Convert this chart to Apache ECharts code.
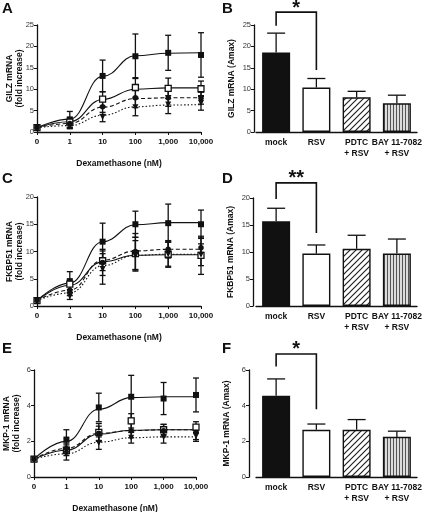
<!DOCTYPE html>
<html><head><meta charset="utf-8">
<script src="https://cdn.jsdelivr.net/npm/echarts@6/dist/echarts.min.js"></script>
<style>html,body{margin:0;padding:0;background:#fff}#c{width:427px;height:512px}</style>
</head><body><div id="c"></div>
<script>
// ---------- DATA ----------
var doseLabels = ['0', '1', '10', '100', '1,000', '10,000'];
var groups = ['mock', 'RSV', 'PDTC\n+ RSV', 'BAY 11-7082\n+ RSV'];

// Panel A: GILZ mRNA (fold increase) - points, SEM, fitted curve read at each dose
var A_mock = [1.0, 2.8, 13.1, 17.7, 18.5, 18.0];
var A_mock_err = [0.3, 2.0, 3.7, 5.2, 4.1, 5.2];
var A_mock_fit = [1.0, 3.0, 13.0, 17.8, 18.4, 18.5];
var A_rsv = [1.0, 2.3, 7.7, 10.4, 10.2, 10.1];
var A_rsv_err = [0.2, 1.2, 1.7, 2.3, 2.4, 1.8];
var A_rsv_fit = [1.0, 2.4, 7.6, 10.0, 10.3, 10.3];
var A_pdtc = [1.0, 2.0, 5.9, 8.0, 8.0, 7.9];
var A_pdtc_err = [0.2, 0.9, 1.8, 2.3, 2.0, 1.4];
var A_pdtc_fit = [1.0, 2.0, 5.8, 7.8, 8.0, 8.0];
var A_bay = [1.0, 1.3, 3.5, 5.8, 6.4, 6.8];
var A_bay_err = [0.2, 0.5, 1.1, 2.0, 2.1, 1.7];
var A_bay_fit = [1.0, 1.5, 3.9, 5.9, 6.3, 6.4];

// Panel C: FKBP51 mRNA (fold increase)
var C_mock = [1.0, 4.4, 11.8, 15.0, 15.2, 15.0];
var C_mock_err = [0.2, 1.9, 3.4, 2.4, 3.5, 2.6];
var C_mock_fit = [1.0, 4.2, 11.8, 14.9, 15.3, 15.3];
var C_rsv = [1.0, 4.0, 8.3, 9.6, 9.5, 9.3];
var C_rsv_err = [0.2, 1.0, 1.8, 3.0, 2.4, 3.5];
var C_rsv_fit = [1.0, 3.8, 8.1, 9.3, 9.4, 9.4];
var C_pdtc = [1.0, 2.9, 8.0, 10.0, 10.4, 10.7];
var C_pdtc_err = [0.2, 1.0, 2.4, 3.3, 1.6, 1.8];
var C_pdtc_fit = [1.0, 2.9, 8.4, 10.1, 10.4, 10.4];
var C_bay = [1.0, 1.8, 6.8, 9.2, 9.5, 9.4];
var C_bay_err = [0.2, 0.6, 2.8, 2.8, 2.2, 2.0];
var C_bay_fit = [1.0, 2.4, 7.4, 9.3, 9.5, 9.5];

// Panel E: MKP-1 mRNA (fold increase)
var E_mock = [1.0, 2.1, 3.9, 4.5, 4.4, 4.6];
var E_mock_err = [0.05, 0.55, 0.8, 1.2, 0.9, 0.95];
var E_mock_fit = [1.0, 2.0, 3.8, 4.45, 4.5, 4.5];
var E_rsv = [1.0, 1.5, 2.5, 3.15, 2.65, 2.8];
var E_rsv_err = [0.05, 0.3, 0.5, 0.4, 0.3, 0.3];
var E_rsv_fit = [1.0, 1.5, 2.4, 2.62, 2.65, 2.65];
var E_pdtc = [1.0, 1.6, 2.45, 2.6, 2.6, 2.5];
var E_pdtc_err = [0.05, 0.3, 0.4, 0.4, 0.35, 0.4];
var E_pdtc_fit = [1.0, 1.6, 2.45, 2.6, 2.65, 2.65];
var E_bay = [1.0, 1.3, 1.9, 2.2, 2.25, 2.3];
var E_bay_err = [0.05, 0.35, 0.35, 0.3, 0.35, 0.3];
var E_bay_fit = [1.0, 1.3, 1.95, 2.2, 2.25, 2.25];

// Bar panels: Amax (mean, SEM)
var B_vals = [18.6, 10.4, 8.1, 6.7];
var B_err = [4.5, 2.1, 1.4, 1.9];
var D_vals = [15.7, 9.7, 10.6, 9.7];
var D_err = [2.4, 1.6, 2.5, 2.7];
var F_vals = [4.55, 2.65, 2.65, 2.25];
var F_err = [0.95, 0.32, 0.57, 0.32];

// Significance brackets: [label, top, left end, right end]
var B_sig = ['*', 28.0, 24.8, 14.5];
var D_sig = ['**', 22.8, 19.8, 13.5];
var F_sig = ['*', 6.9, 6.2, 3.8];

// ---------- CHART ----------
var FONT = '"Liberation Sans", Arial, sans-serif';
var INK = '#111';
var chart = echarts.init(document.getElementById('c'), null, {renderer: 'canvas'});

function mkPattern(type) {
  var c = document.createElement('canvas'), g;
  if (type === 'diag') {
    c.width = 6; c.height = 6; g = c.getContext('2d');
    g.fillStyle = '#fff'; g.fillRect(0, 0, 6, 6);
    g.strokeStyle = '#222'; g.lineWidth = 1.2; g.beginPath();
    g.moveTo(-1, 7); g.lineTo(7, -1);
    g.moveTo(-1, 1); g.lineTo(1, -1);
    g.moveTo(5, 7); g.lineTo(7, 5);
    g.stroke();
  } else {
    c.width = 3; c.height = 4; g = c.getContext('2d');
    g.fillStyle = '#dcdcdc'; g.fillRect(0, 0, 3, 4);
    g.fillStyle = '#555'; g.fillRect(0, 0, 1, 4);
  }
  return c;
}
var barFills = ['#111', '#fff', {image: mkPattern('diag'), repeat: 'repeat'}, {image: mkPattern('vert'), repeat: 'repeat'}];

var styles = [
  {sym: 'rect', fill: INK, dash: 'solid', size: 6, rot: 0},
  {sym: 'rect', fill: '#fff', dash: 'solid', size: 6, rot: 0},
  {sym: 'circle', fill: INK, dash: [4, 2.5], size: 5.5, rot: 0},
  {sym: 'triangle', fill: INK, dash: [1.5, 2], size: 6, rot: 180}
];

var grids = [], xAxes = [], yAxes = [], series = [], graphics = [];

function yAxisCfg(gi, max, interval, name, gap, offset) {
  return {
    gridIndex: gi, type: 'value', min: 0, max: max, interval: interval, offset: offset || 0,
    axisLine: {show: true, lineStyle: {color: INK, width: 1.3}},
    axisTick: {show: true, length: 3, lineStyle: {color: INK, width: 1}},
    axisLabel: {fontSize: 7.5, color: '#333', margin: 3, fontFamily: FONT},
    splitLine: {show: false},
    name: name, nameLocation: 'middle', nameGap: gap, nameRotate: 90, nameMoveOverlap: false,
    nameTextStyle: {fontSize: 8.5, fontWeight: 'bold', color: INK, fontFamily: FONT, lineHeight: 10}
  };
}

function errRender(cap, oneSided) {
  return function (params, api) {
    var x = api.value(0), lo = api.value(1), hi = api.value(2);
    var p1 = api.coord([x, lo]), p2 = api.coord([x, hi]), h = cap / 2;
    var st = {stroke: INK, lineWidth: 1.3};
    var ch = [
      {type: 'line', shape: {x1: p1[0], y1: p1[1], x2: p2[0], y2: p2[1]}, style: st},
      {type: 'line', shape: {x1: p2[0] - h, y1: p2[1], x2: p2[0] + h, y2: p2[1]}, style: st}
    ];
    if (!oneSided) ch.push({type: 'line', shape: {x1: p1[0] - h, y1: p1[1], x2: p1[0] + h, y2: p1[1]}, style: st});
    return {type: 'group', children: ch};
  };
}

function linePanel(gi, box, pts, errs, fits, yMax, yInt, yName) {
  grids.push({left: box[0], top: box[1], width: box[2], height: box[3], outerBoundsMode: 'none', containLabel: false});
  xAxes.push({
    gridIndex: gi, type: 'value', min: 0, max: 5, interval: 1,
    axisLine: {show: true, lineStyle: {color: INK, width: 1.3}},
    axisTick: {show: true, length: 3, lineStyle: {color: INK, width: 1}},
    axisLabel: {fontSize: 8, fontWeight: 'bold', color: INK, margin: 6, fontFamily: FONT,
      formatter: function (v) { return doseLabels[Math.round(v)]; }},
    splitLine: {show: false},
    name: 'Dexamethasone (nM)', nameLocation: 'middle', nameGap: 27, nameMoveOverlap: false,
    nameTextStyle: {fontSize: 8.5, fontWeight: 'bold', color: INK, fontFamily: FONT}
  });
  yAxes.push(yAxisCfg(gi, yMax, yInt, yName, 12));
  var errData = [];
  for (var s = 0; s < 4; s++) {
    var st = styles[s];
    series.push({
      type: 'line', xAxisIndex: gi, yAxisIndex: gi, z: 2, silent: true,
      data: fits[s].map(function (v, i) { return [i, v]; }),
      smooth: 0.45, smoothMonotone: 'x', showSymbol: false, symbol: 'none',
      lineStyle: {color: INK, width: 1.1, type: st.dash}
    });
    series.push({
      type: 'scatter', xAxisIndex: gi, yAxisIndex: gi, z: 5, silent: true,
      data: pts[s].map(function (v, i) { return [i, v]; }),
      symbol: st.sym, symbolSize: st.size, symbolRotate: st.rot,
      itemStyle: {color: st.fill, borderColor: INK, borderWidth: s === 1 ? 1.3 : 0, opacity: 1}
    });
    pts[s].forEach(function (v, i) { errData.push([i, v - errs[s][i], v + errs[s][i]]); });
  }
  series.push({
    type: 'custom', xAxisIndex: gi, yAxisIndex: gi, z: 3, silent: true,
    renderItem: errRender(6, false), data: errData, encode: {x: 0, y: [1, 2]}
  });
}

function barPanel(gi, box, vals, errs, yMax, yInt, yName, yOff, sig) {
  grids.push({left: box[0], top: box[1], width: box[2], height: box[3], outerBoundsMode: 'none', containLabel: false});
  xAxes.push({
    gridIndex: gi, type: 'category', data: groups,
    axisLine: {show: true, lineStyle: {color: INK, width: 1.3}},
    axisTick: {show: false},
    axisLabel: {fontSize: 8.5, fontWeight: 'bold', color: INK, margin: 5, lineHeight: 11, fontFamily: FONT, interval: 0},
    splitLine: {show: false}
  });
  yAxes.push(yAxisCfg(gi, yMax, yInt, yName, 17, yOff));
  series.push({
    type: 'bar', xAxisIndex: gi, yAxisIndex: gi, z: 2, silent: true, barWidth: 28,
    data: vals.map(function (v, i) {
      return {value: v, itemStyle: {color: barFills[i], borderColor: INK, borderWidth: 1.4}};
    })
  });
  series.push({
    type: 'custom', xAxisIndex: gi, yAxisIndex: gi, z: 1, silent: true,
    renderItem: errRender(18, true),
    data: vals.map(function (v, i) { return [i, v, v + errs[i]]; }), encode: {x: 0, y: [1, 2]}
  });
  series.push({
    type: 'custom', xAxisIndex: gi, yAxisIndex: gi, z: 4, silent: true, clip: false,
    renderItem: function (params, api) {
      var pT0 = api.coord([0, sig[1]]), pT1 = api.coord([1, sig[1]]);
      var pL = api.coord([0, sig[2]]), pR = api.coord([1, sig[3]]);
      var st = {stroke: INK, lineWidth: 1.6, fill: null};
      return {type: 'group', children: [
        {type: 'polyline', shape: {points: [[pL[0], pL[1]], [pT0[0], pT0[1]], [pT1[0], pT1[1]], [pR[0], pR[1]]]}, style: st},
        {type: 'text', style: {text: sig[0], x: (pT0[0] + pT1[0]) / 2, y: pT0[1] + 6, align: 'center', verticalAlign: 'bottom',
          fontSize: 20, fontWeight: 'bold', fill: INK, fontFamily: FONT}}
      ]};
    },
    data: [[0, sig[1]]], encode: {x: 0, y: 1}
  });
}

linePanel(0, [37, 25, 164, 107], [A_mock, A_rsv, A_pdtc, A_bay], [A_mock_err, A_rsv_err, A_pdtc_err, A_bay_err],
  [A_mock_fit, A_rsv_fit, A_pdtc_fit, A_bay_fit], 25, 5, 'GILZ mRNA\n(fold increase)');
barPanel(1, [256, 25, 161, 107], B_vals, B_err, 25, 5, 'GILZ mRNA (Amax)', 2, B_sig);
linePanel(2, [37, 197, 164, 109], [C_mock, C_rsv, C_pdtc, C_bay], [C_mock_err, C_rsv_err, C_pdtc_err, C_bay_err],
  [C_mock_fit, C_rsv_fit, C_pdtc_fit, C_bay_fit], 20, 5, 'FKBP51 mRNA\n(fold increase)');
barPanel(3, [256, 198, 161, 108], D_vals, D_err, 20, 5, 'FKBP51 mRNA (Amax)', 3, D_sig);
linePanel(4, [34, 370, 162, 107], [E_mock, E_rsv, E_pdtc, E_bay], [E_mock_err, E_rsv_err, E_pdtc_err, E_bay_err],
  [E_mock_fit, E_rsv_fit, E_pdtc_fit, E_bay_fit], 6, 2, 'MKP-1 mRNA\n(fold increase)');
barPanel(5, [256, 370, 161, 107], F_vals, F_err, 6, 2, 'MKP-1 mRNA (Amax)', 7, F_sig);

var letters = [['A', 2, 1], ['B', 222, 1], ['C', 2, 171], ['D', 222, 171], ['E', 2, 341], ['F', 222, 341]];
letters.forEach(function (l) {
  graphics.push({type: 'text', left: l[1], top: l[2], style: {text: l[0], fontSize: 15, fontWeight: 'bold', fill: INK, fontFamily: FONT}});
});

chart.setOption({
  backgroundColor: '#fff', animation: false,
  grid: grids, xAxis: xAxes, yAxis: yAxes, series: series, graphic: graphics
});
</script>
</body></html>
